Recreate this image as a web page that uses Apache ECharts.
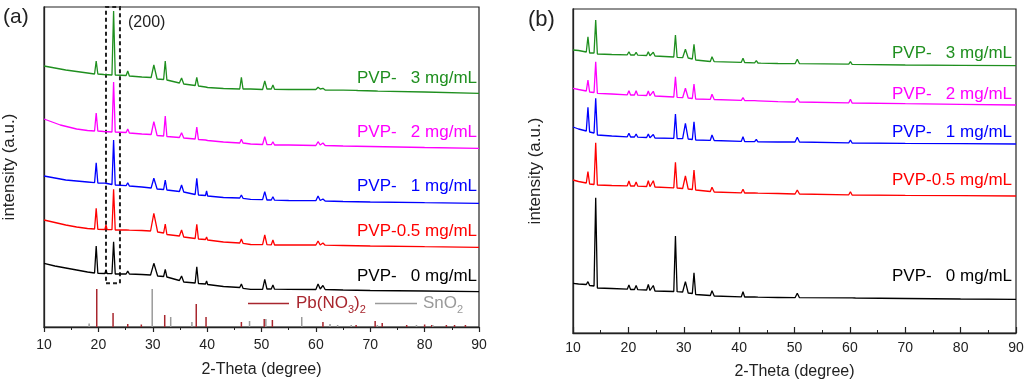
<!DOCTYPE html>
<html><head><meta charset="utf-8">
<script src="https://cdn.jsdelivr.net/npm/echarts@6/dist/echarts.min.js"></script>
<style>html,body{margin:0;padding:0;background:#fff}#c{width:1024px;height:387px}</style>
</head><body><div id="c"></div>
<script>
// ---------- DATA (2-Theta in degrees, intensity in arbitrary offset units) ----------
// Panel (a)
const a_3mg = [[10,261],[12,259],[14,257],[16,255.5],[18,254],[19.3,253],[19.6,266],[19.9,253],[21,252.5],[22.5,252],[22.8,316],[23.1,252],[25.1,251.5],[25.4,256],[25.7,251],[28,250],[29.7,249.5],[30.2,262],[30.8,248],[32,247.5],[32.3,266],[32.6,247],[34.9,244],[35.3,249],[35.7,243],[37.8,241.5],[38.1,249.7],[38.4,241],[39.7,240],[39.9,242],[40.1,239.5],[43,238.5],[46,238],[46.3,249.7],[46.6,238],[48,238],[50.2,237.5],[50.6,246],[51,238],[51.8,238],[52.1,242],[52.4,237.7],[55,237.5],[60,237.5],[60.4,239.7],[60.8,238],[61.3,238.7],[61.7,237],[65,236.8],[67.3,236.7],[67.5,238],[67.7,236.5],[71,236],[71.2,237],[71.4,235.8],[80,235],[90,233.7]];
const a_2mg = [[10,208],[11.5,205],[13,202],[14.5,200],[16,198],[18,196.5],[19.3,196],[19.6,214],[19.9,196],[21,195.5],[22.5,195],[22.8,245],[23.1,195],[25.1,194.5],[25.4,198],[25.7,194],[28,193],[29.7,192.5],[30.2,205.3],[30.8,191.5],[32,191],[32.3,211],[32.6,190.5],[34.9,189.5],[35.3,194.3],[35.7,189],[37.8,188],[38.1,200],[38.4,187.5],[39.7,187],[39.9,189],[40.1,186.5],[43,185],[46,184],[46.3,187.7],[46.6,184],[48,183],[50.2,182.5],[50.6,190.3],[51,182.5],[51.8,182.3],[52.1,185.3],[52.4,182],[55,182],[60,181.5],[60.4,185.3],[60.8,182],[61.3,184],[61.7,181.5],[65,181],[70,180.5],[80,179.5],[90,178.7]];
const a_1mg = [[10,151],[12,149],[14,147],[16,146],[18,145],[19.3,144.3],[19.6,164.3],[19.9,144],[21.2,143.8],[21.4,145.3],[21.6,143.5],[22.5,142.5],[22.8,187],[23.1,142],[25.1,141.3],[25.4,144.3],[25.7,141],[28,140],[29.7,139],[30.2,148.7],[30.8,138],[32,137.5],[32.3,147],[32.6,137],[34.9,135.5],[35.3,142],[35.7,135],[37.8,132.5],[38.1,148.7],[38.4,132],[39.7,131.5],[39.9,136],[40.1,131],[43,129.5],[46,129],[46.3,132],[46.6,128.7],[48,127.7],[50.2,127.3],[50.6,135.3],[51,127],[51.8,127],[52.1,130.3],[52.4,126.8],[55,126.5],[60,126.3],[60.4,131],[60.8,126.5],[61.3,128],[61.7,126],[65,125.5],[70,125],[80,124.3],[90,123.7]];
const a_05mg = [[10,107],[12,104.5],[14,102],[16,100],[18,98.5],[19.3,98],[19.6,118.7],[19.9,97.7],[21.2,97.5],[21.4,102],[21.6,97.5],[22.5,97.3],[22.8,137.7],[23.1,97],[25.1,97],[25.4,98.7],[25.7,96.8],[28,96.5],[29.6,96],[30.2,113.7],[30.9,95],[32,94],[32.3,103],[32.6,92.5],[34.9,91],[35.3,97],[35.7,90],[37.8,88.5],[38.1,102.7],[38.4,88],[39.7,87.5],[39.9,90],[40.1,87],[43,85],[46,84],[46.3,88],[46.6,83.7],[48,82.5],[50.2,82.3],[50.6,92],[51,82.3],[51.8,82.2],[52.1,87],[52.4,82],[55,82],[60,82],[60.4,86],[60.8,82],[61.3,84],[61.7,81.8],[65,81.5],[70,81],[80,80.3],[90,79.7]];
const a_0mg = [[10,63.7],[12,61],[14,59],[16,57],[18,55],[19.3,54],[19.6,81],[19.9,53.7],[21.2,53.5],[21.4,57],[21.6,53.5],[22.5,53.3],[22.8,85.3],[23.1,53],[25.1,53],[25.4,56],[25.7,53],[28,52.5],[29.6,52],[30.2,63.7],[30.9,51],[32,50.5],[32.3,57.7],[32.6,50],[34.9,46.5],[35.3,51],[35.7,45],[37.8,44],[38.1,60.3],[38.4,43.5],[39.7,43],[39.9,46],[40.1,42.5],[43,40.5],[46,39.5],[46.3,43],[46.6,38.7],[48,37.7],[50.2,37.7],[50.6,47.7],[51,38],[51.8,38],[52.1,42],[52.4,37.8],[55,37.7],[60,37.5],[60.4,43],[60.8,38],[61.3,41.5],[61.7,37.5],[65,37],[70,36.5],[80,36],[90,35.3]];
// reference sticks
const pbNO3Sticks = [[19.7,38],[22.7,14],[25.4,3],[27.9,2.5],[32.2,12],[38.0,23],[39.8,10],[46.3,5],[50.5,8],[52.0,7],[61.3,5],[67.4,2],[70.9,6],[72.2,4],[76.7,2],[80.0,2.5],[81.3,2],[84.0,2],[85.5,2],[87.5,2]];
const sno2Sticks = [[18.3,3.5],[29.9,38],[33.3,10],[37.2,5],[47.8,6],[50.8,8],[57.4,10],[62.6,3],[64.0,2],[66.5,2],[71.3,2],[78.5,2],[81.5,2]];
// (200) dashed box: [x0, x1, y0, y1]
const box200 = [21.4, 23.97, 43.7, 320];

// Panel (b)
const b_3mg = [[10,283],[11,282.5],[12.4,281],[12.7,296.3],[13,280],[13.8,280],[14.1,313],[14.4,279],[17,278.5],[19.8,278.2],[20.1,281.3],[20.4,278],[21.1,278],[21.4,280.7],[21.7,277.8],[23.3,277.5],[23.6,281.3],[23.9,277.3],[24.2,277.2],[24.5,280.7],[24.8,277],[28.2,276],[28.5,298],[28.8,275.7],[29.8,275.3],[30.3,283.7],[30.8,275],[31.55,274],[31.85,288.7],[32.15,273],[34.8,271.5],[35.1,276.3],[35.5,271.3],[40.4,270.7],[40.7,274.7],[41,270.5],[42.8,270.2],[43.1,272.3],[43.4,270],[43.6,271.5],[43.9,269.8],[47,269.5],[50.1,269.3],[50.5,273.7],[50.9,269.3],[59.8,268.8],[60.1,271.3],[60.4,268.7],[70,268],[80,267.7],[90,267.3]];
const b_2mg = [[10,244.7],[11,243.5],[12.4,242],[12.7,253],[13,241],[13.8,240.5],[14.1,271.3],[14.4,239.7],[17,239],[19.8,238.2],[20.1,242.3],[20.4,238],[21.1,238],[21.4,242.3],[21.7,237.8],[23.3,237.5],[23.6,242],[23.9,237.3],[24.2,237.2],[24.5,241.7],[24.8,237],[28.2,236],[28.5,256.3],[28.8,235.7],[29.8,235.3],[30.3,244.7],[30.8,235],[31.55,234.5],[31.85,249],[32.15,234],[34.8,233.7],[35.1,238.7],[35.5,233.5],[40.4,232.7],[40.7,235.3],[41,232.5],[42.8,232.3],[43.1,234],[43.4,232.2],[47,231.3],[50.1,231],[50.5,234.7],[50.9,231],[59.8,230.2],[60.1,233.7],[60.4,230],[70,229.3],[80,228.7],[90,228]];
const b_1mg = [[10,206],[11,204],[12.4,202],[12.7,225.7],[13,201],[13.8,200],[14.1,234.7],[14.4,198],[17,197],[19.8,196.2],[20.1,199.7],[20.4,196],[21.1,196],[21.4,199],[21.7,195.8],[23.3,195.5],[23.6,199],[23.9,195.3],[24.2,195.2],[24.5,198.5],[24.8,195],[28.2,194.7],[28.5,219],[28.8,194.5],[29.8,194.3],[30.3,209.7],[30.8,194],[31.55,193.5],[31.85,211.3],[32.15,193],[34.8,192.7],[35.1,198],[35.5,192.5],[40.4,191.7],[40.7,196.3],[41,191.5],[42.8,191.3],[43.1,193.5],[43.4,191.2],[47,191],[50.1,191],[50.5,195.7],[50.9,191],[59.8,190.2],[60.1,193],[60.4,190],[70,189.6],[80,189.3],[90,189]];
const b_05mg = [[10,153],[11,151.5],[12.4,150],[12.7,161.3],[13,149],[13.8,148.5],[14.1,190.3],[14.4,148],[17,147.5],[19.8,147.2],[20.1,152],[20.4,147],[21.1,147],[21.4,151],[21.7,146.8],[23.3,146.5],[23.6,152.3],[23.9,146.3],[24.2,146.2],[24.5,152.3],[24.8,146],[28.2,145.2],[28.5,170.7],[28.8,145],[29.8,144.5],[30.3,157],[30.8,144],[31.55,143.5],[31.85,163],[32.15,143],[34.8,141.5],[35.1,145.7],[35.5,141],[40.4,140.2],[40.7,143.7],[41,140],[42.8,140],[43.1,142],[43.4,139.8],[47,139.5],[50.1,139],[50.5,143],[50.9,139],[59.8,138.2],[60.1,141.3],[60.4,138],[70,137.6],[80,137.3],[90,137]];
const b_0mg = [[10,49.7],[11,49],[12.4,48.5],[12.7,51.3],[13,47.5],[13.8,47],[14.1,135.3],[14.4,45],[17,44.5],[19.8,43.8],[20.1,48],[20.4,43.5],[21.1,43.5],[21.4,47.5],[21.7,43.3],[23.3,43],[23.6,48.5],[23.9,42.5],[24.2,42.3],[24.5,47.5],[24.8,42],[28.2,41.5],[28.5,97],[28.8,41.3],[29.8,41],[30.3,51.3],[30.8,40],[31.55,39.5],[31.85,60.3],[32.15,38.5],[34.8,37.5],[35.1,42.3],[35.5,37],[40.4,36.2],[40.7,41.3],[41,36],[42.8,36],[43.1,38],[43.4,35.8],[47,35.5],[50.1,35.3],[50.5,39.7],[50.9,35.3],[59.8,35.1],[60.1,37],[60.4,35.2],[60.7,36.3],[61.0,35],[70,34.5],[80,34],[90,33.7]];

const seriesNames = ['PVP-   3 mg/mL','PVP-   2 mg/mL','PVP-   1 mg/mL','PVP-0.5 mg/mL','PVP-   0 mg/mL'];
// ---------- STYLE ----------
const FONT = '"Liberation Sans", Arial, sans-serif';
const COLORS = ['#1f8f1f','#ff00ff','#0000ff','#ff0000','#000000'];
const TXT = '#222';
const PB_COLOR = '#a8262e', SN_COLOR = '#9a9a9a';

function xAx(gi, inside, len, minorLen, margin, gap){
  return {type:'value', gridIndex:gi, min:10, max:90, interval:10,
    name:'2-Theta (degree)', nameLocation:'middle', nameGap:gap,
    nameTextStyle:{fontSize:16, color:TXT, fontFamily:FONT},
    axisLine:{show:true, onZero:false, lineStyle:{color:TXT, width:1.3}},
    axisTick:{show:true, inside:inside, length:len, lineStyle:{color:TXT, width:1.2}},
    minorTick:{show:true, splitNumber:2, length:minorLen, lineStyle:{color:TXT, width:1}},
    axisLabel:{fontSize:14, color:TXT, margin:margin, fontFamily:FONT},
    splitLine:{show:false}, minorSplitLine:{show:false}};
}
function yAx(gi, max, gap){
  return {type:'value', gridIndex:gi, min:0, max:max,
    name:'intensity (a.u.)', nameLocation:'middle', nameGap:gap, nameRotate:90,
    nameTextStyle:{fontSize:17, color:TXT, fontFamily:FONT},
    axisLine:{show:true, lineStyle:{color:TXT, width:1.3}},
    axisTick:{show:false}, axisLabel:{show:false}, splitLine:{show:false}};
}
function line(data, color, xi, extra){
  return Object.assign({type:'line', xAxisIndex:xi, yAxisIndex:xi, data:data, symbol:'none', showSymbol:false,
    lineStyle:{color:color, width:1.3}, silent:true, z:3}, extra||{});
}
function label(text, x, y, color){
  return {type:'text', x:x, y:y, style:{text:text, fontSize:17, fontFamily:FONT, fill:color,
    align:'right', textAlign:'right', verticalAlign:'middle', textVerticalAlign:'middle'}};
}

const aSets = [a_3mg,a_2mg,a_1mg,a_05mg,a_0mg];
const bSets = [b_3mg,b_2mg,b_1mg,b_05mg,b_0mg];
const aLabelY = [78,132.5,186.7,231.7,276.7];
const bLabelY = [53.3,94,132.5,180,276];

const series = [];
aSets.forEach((d,i)=>series.push(line(d, COLORS[i], 0, i===4 ? {
  markArea:{silent:true, itemStyle:{color:'rgba(0,0,0,0)', borderColor:'#222', borderWidth:2, borderType:[4,3]},
    data:[[{xAxis:box200[0], yAxis:box200[2]},{xAxis:box200[1], yAxis:box200[3]}]]}} : {})));
series.push({type:'bar', name:'Pb(NO3)2', xAxisIndex:0, yAxisIndex:0, data:pbNO3Sticks, barWidth:1.5, barGap:'-100%', itemStyle:{color:PB_COLOR}, silent:true, z:2});
series.push({type:'bar', name:'SnO2', xAxisIndex:0, yAxisIndex:0, data:sno2Sticks, barWidth:1.5, barGap:'-100%', itemStyle:{color:SN_COLOR}, silent:true, z:2});
bSets.forEach((d,i)=>series.push(line(d, COLORS[i], 1)));

const graphic = [
  {type:'text', x:3, y:17, style:{text:'(a)', fontSize:21, fontFamily:FONT, fill:TXT, verticalAlign:'middle', textVerticalAlign:'middle'}},
  {type:'text', x:528, y:20, style:{text:'(b)', fontSize:22, fontFamily:FONT, fill:TXT, verticalAlign:'middle', textVerticalAlign:'middle'}},
  {type:'text', x:128, y:23, style:{text:'(200)', fontSize:16, fontFamily:FONT, fill:TXT, verticalAlign:'middle', textVerticalAlign:'middle'}},
  {type:'line', shape:{x1:248, y1:303.5, x2:289, y2:303.5}, style:{stroke:PB_COLOR, lineWidth:1.3}},
  {type:'text', x:296, y:303, style:{text:'{a|Pb(NO}{s|3}{a|)}{s|2}', fontFamily:FONT, verticalAlign:'middle', textVerticalAlign:'middle',
    rich:{a:{fontSize:17, fill:PB_COLOR, fontFamily:FONT}, s:{fontSize:11, fill:PB_COLOR, fontFamily:FONT, verticalAlign:'bottom', padding:[0,0,-4,0]}}}},
  {type:'line', shape:{x1:375, y1:303.5, x2:417, y2:303.5}, style:{stroke:SN_COLOR, lineWidth:1.3}},
  {type:'text', x:423, y:303, style:{text:'{a|SnO}{s|2}', fontFamily:FONT, verticalAlign:'middle', textVerticalAlign:'middle',
    rich:{a:{fontSize:17, fill:SN_COLOR, fontFamily:FONT}, s:{fontSize:11, fill:SN_COLOR, fontFamily:FONT, verticalAlign:'bottom', padding:[0,0,-4,0]}}}}
];
seriesNames.forEach((n,i)=>{ graphic.push(label(n, 477, aLabelY[i], COLORS[i])); graphic.push(label(n, 1012, bLabelY[i], COLORS[i])); });

const chart = echarts.init(document.getElementById('c'), null, {renderer:'canvas'});
chart.setOption({
  animation:false, backgroundColor:'#fff',
  textStyle:{fontFamily:FONT},
  grid:[
    {left:44, top:7, width:435, height:320, show:true, borderColor:TXT, borderWidth:1.2, backgroundColor:'transparent', outerBoundsMode:'none', containLabel:false},
    {left:573, top:9, width:443, height:324, show:true, borderColor:TXT, borderWidth:1.2, backgroundColor:'transparent', outerBoundsMode:'none', containLabel:false}
  ],
  xAxis:[xAx(0,false,5,3,11,35), xAx(1,true,6,3,8,31)],
  yAxis:[yAx(0,320,26), yAx(1,324,29)],
  series:series,
  graphic:graphic
});
</script></body></html>
